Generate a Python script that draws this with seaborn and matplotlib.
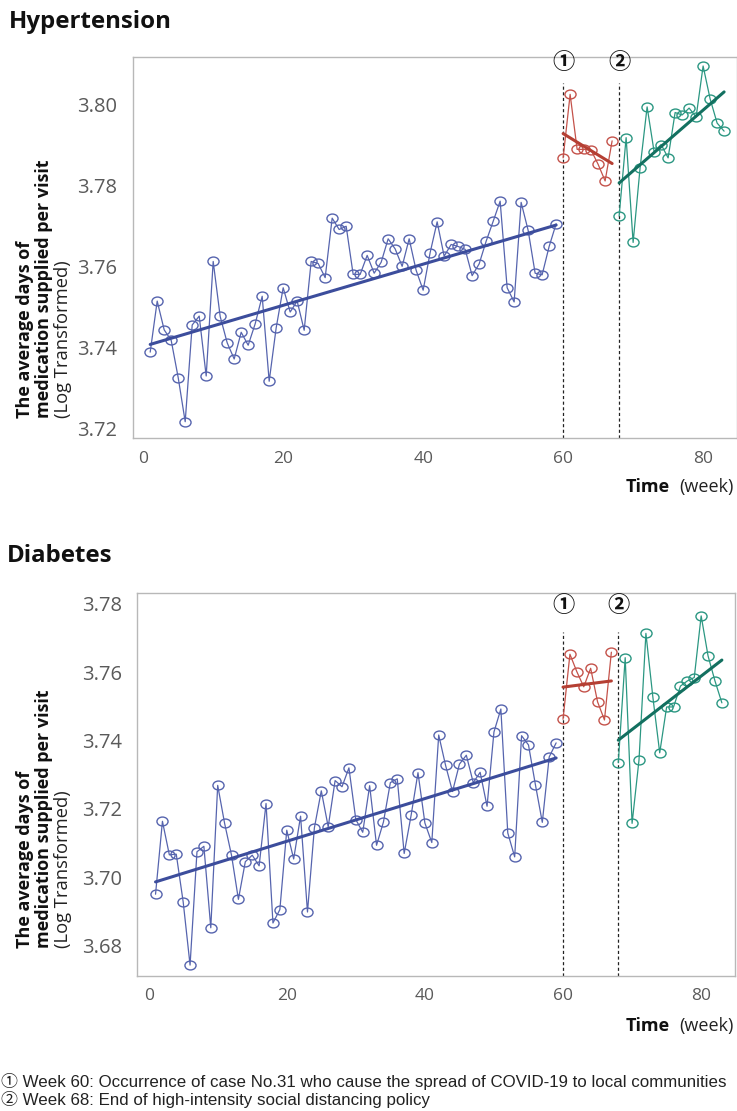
import numpy as np
import pandas as pd
import matplotlib
matplotlib.use("Agg")
import matplotlib.pyplot as plt
from matplotlib.path import Path
from matplotlib.transforms import blended_transform_factory
import seaborn as sns

# ---------------- data ----------------
weeks_pre = list(range(1, 60))
weeks_p1 = list(range(60, 68))
weeks_p2 = list(range(68, 84))

htn_pre = [3.7388, 3.7514, 3.7443, 3.7417, 3.7325, 3.7216, 3.7455, 3.7477, 3.7329, 3.7612,
           3.7476, 3.7411, 3.7371, 3.7437, 3.7405, 3.7458, 3.7526, 3.7316, 3.7448, 3.7547,
           3.7487, 3.7514, 3.7442, 3.7612, 3.7607, 3.7572, 3.7719, 3.7691, 3.7699, 3.7580,
           3.7580, 3.7627, 3.7583, 3.7610, 3.7668, 3.7643, 3.7600, 3.7668, 3.7590, 3.7541,
           3.7634, 3.7710, 3.7625, 3.7654, 3.7649, 3.7642, 3.7577, 3.7606, 3.7662, 3.7711,
           3.7761, 3.7547, 3.7512, 3.7758, 3.7689, 3.7583, 3.7579, 3.7649, 3.7705]
htn_p1 = [3.7868, 3.8025, 3.7889, 3.7889, 3.7887, 3.7852, 3.7811, 3.7910]
htn_p2 = [3.7724, 3.7918, 3.7659, 3.7844, 3.7994, 3.7883, 3.7901, 3.7868,
          3.7980, 3.7974, 3.7991, 3.7969, 3.8095, 3.8014, 3.7954, 3.7934]
htn_trend_pre = [3.7407, 3.7702]
htn_trend_p1 = [3.7928, 3.7854]
htn_trend_p2 = [3.7806, 3.8031]

dm_pre = [3.6951, 3.7164, 3.7066, 3.7068, 3.6929, 3.6744, 3.7075, 3.7091, 3.6853, 3.7269,
          3.7158, 3.7065, 3.6936, 3.7046, 3.7065, 3.7034, 3.7216, 3.6867, 3.6906, 3.7138,
          3.7054, 3.7179, 3.6899, 3.7145, 3.7253, 3.7148, 3.7283, 3.7265, 3.7320, 3.7169,
          3.7132, 3.7268, 3.7094, 3.7162, 3.7277, 3.7288, 3.7070, 3.7181, 3.7306, 3.7159,
          3.7102, 3.7416, 3.7327, 3.7251, 3.7331, 3.7357, 3.7277, 3.7307, 3.7208, 3.7425,
          3.7492, 3.7130, 3.7060, 3.7414, 3.7387, 3.7271, 3.7161, 3.7352, 3.7393]
dm_p1 = [3.7462, 3.7652, 3.7601, 3.7557, 3.7611, 3.7513, 3.7460, 3.7658]
dm_p2 = [3.7335, 3.7642, 3.7158, 3.7343, 3.7713, 3.7528, 3.7364, 3.7498,
         3.7498, 3.7559, 3.7574, 3.7584, 3.7764, 3.7647, 3.7574, 3.7510]
dm_trend_pre = [3.6987, 3.7349]
dm_trend_p1 = [3.7556, 3.7574]
dm_trend_p2 = [3.7401, 3.7635]

event_weeks = [60, 68]
event_marks = ["①", "②"]
htn_yticks = [3.72, 3.74, 3.76, 3.78, 3.80]
dm_yticks = [3.68, 3.70, 3.72, 3.74, 3.76, 3.78]
xticks = [0, 20, 40, 60, 80]
footnotes = ["① Week 60: Occurrence of case No.31 who cause the spread of COVID-19 to local communities",
             "② Week 68: End of high-intensity social distancing policy"]

# ---------------- style ----------------
sns.set_style("white")
plt.rcParams["font.family"] = ["Open Sans", "DejaVu Sans"]

W, H = 737, 1111
fig = plt.figure(figsize=(W / 100, H / 100), dpi=100)


def px_axes(l, t, r, b):
    return fig.add_axes([l / W, 1 - b / H, (r - l) / W, (b - t) / H])


def fx(x):
    return x / W


def fy(y):
    return 1 - y / H


circ = Path.unit_circle()
ell = Path(circ.vertices * np.array([1.0, 0.8]), circ.codes)

c_blue, c_blue_t = "#5664ae", "#3c4d9c"
c_red, c_red_t = "#c4524a", "#b53f33"
c_grn, c_grn_t = "#2b9782", "#137060"


def draw(ax, pre, p1, p2, tp, t1, t2, ylim, xlim, yticks, dash_top, mark_y):
    for wk, vals, col, tv, tcol in [(weeks_pre, pre, c_blue, tp, c_blue_t),
                                     (weeks_p1, p1, c_red, t1, c_red_t),
                                     (weeks_p2, p2, c_grn, t2, c_grn_t)]:
        df = pd.DataFrame({"week": wk, "value": vals})
        sns.lineplot(data=df, x="week", y="value", ax=ax, color=col, linewidth=0.9,
                     marker=ell, markersize=8, markerfacecolor="none",
                     markeredgecolor=col, markeredgewidth=1.0, zorder=3)
        dt = pd.DataFrame({"week": [wk[0], wk[-1]], "value": tv})
        sns.lineplot(data=dt, x="week", y="value", ax=ax, color=tcol, linewidth=2.2, zorder=4)
    ax.vlines(event_weeks, ylim[0], dash_top, colors="#222222", linestyles=(0, (2.5, 2)),
              linewidth=0.9, zorder=2)
    tr = blended_transform_factory(ax.transData, ax.transAxes)
    for w, m in zip(event_weeks, event_marks):
        ax.text(w, mark_y, m, transform=tr, ha="center", va="center", fontsize=16,
                fontweight="bold", family=["Noto Sans CJK KR", "DejaVu Sans"], color="#111111")
    ax.set_xlim(*xlim)
    ax.set_ylim(*ylim)
    ax.set_xticks(xticks)
    ax.set_yticks(yticks)
    ax.set_yticklabels([f"{v:.2f}" for v in yticks])
    ax.set_xlabel("")
    ax.set_ylabel("")
    for s in ax.spines.values():
        s.set_color("#b8b8b8")
        s.set_linewidth(1.0)
    ax.tick_params(axis="both", direction="out", length=5, width=1, color="#a8a8a8",
                   labelcolor="#5a5a5a", pad=4)
    ax.tick_params(axis="x", labelsize=12.5)
    ax.tick_params(axis="y", labelsize=14.5, pad=6)


ax1 = px_axes(132.7, 56.7, 736.7, 438.3)
draw(ax1, htn_pre, htn_p1, htn_p2, htn_trend_pre, htn_trend_p1, htn_trend_p2,
     (3.7175, 3.8118), (-1.5, 84.8), htn_yticks, 3.8052, 0.985)

ax2 = px_axes(137.3, 593.3, 735.0, 975.7)
draw(ax2, dm_pre, dm_p1, dm_p2, dm_trend_pre, dm_trend_p1, dm_trend_p2,
     (3.6713, 3.7830), (-1.64, 84.9), dm_yticks, 3.7718, 0.968)

# titles
fig.text(fx(9), fy(22), "Hypertension", fontsize=17.3, fontweight="bold", ha="left", va="center",
         color="#111111")
fig.text(fx(7), fy(556), "Diabetes", fontsize=17.3, fontweight="bold", ha="left", va="center",
         color="#111111")

# y labels
for ybot in (418, 948):
    fig.text(fx(25.5), fy(ybot), "The average days of", rotation=90, ha="center", va="bottom",
             fontsize=13, fontweight="bold", color="#111111")
    fig.text(fx(44.5), fy(ybot), "medication supplied per visit", rotation=90, ha="center",
             va="bottom", fontsize=13, fontweight="bold", color="#111111")
    fig.text(fx(63), fy(ybot), "(Log Transformed)", rotation=90, ha="center", va="bottom",
             fontsize=13.2, color="#222222")

# x labels
for yc in (487, 1026):
    fig.text(fx(734), fy(yc), "(week)", ha="right", va="center", fontsize=13, color="#222222")
    fig.text(fx(670), fy(yc), "Time", ha="right", va="center", fontsize=13, fontweight="bold",
             color="#111111")

# footnotes
for yc, t in zip((1081, 1100), footnotes):
    fig.text(fx(1), fy(yc), t, ha="left", va="center", fontsize=12.2, color="#222222",
             family=["Liberation Sans", "Noto Sans CJK KR"])

fig.savefig("out.png", dpi=100)
